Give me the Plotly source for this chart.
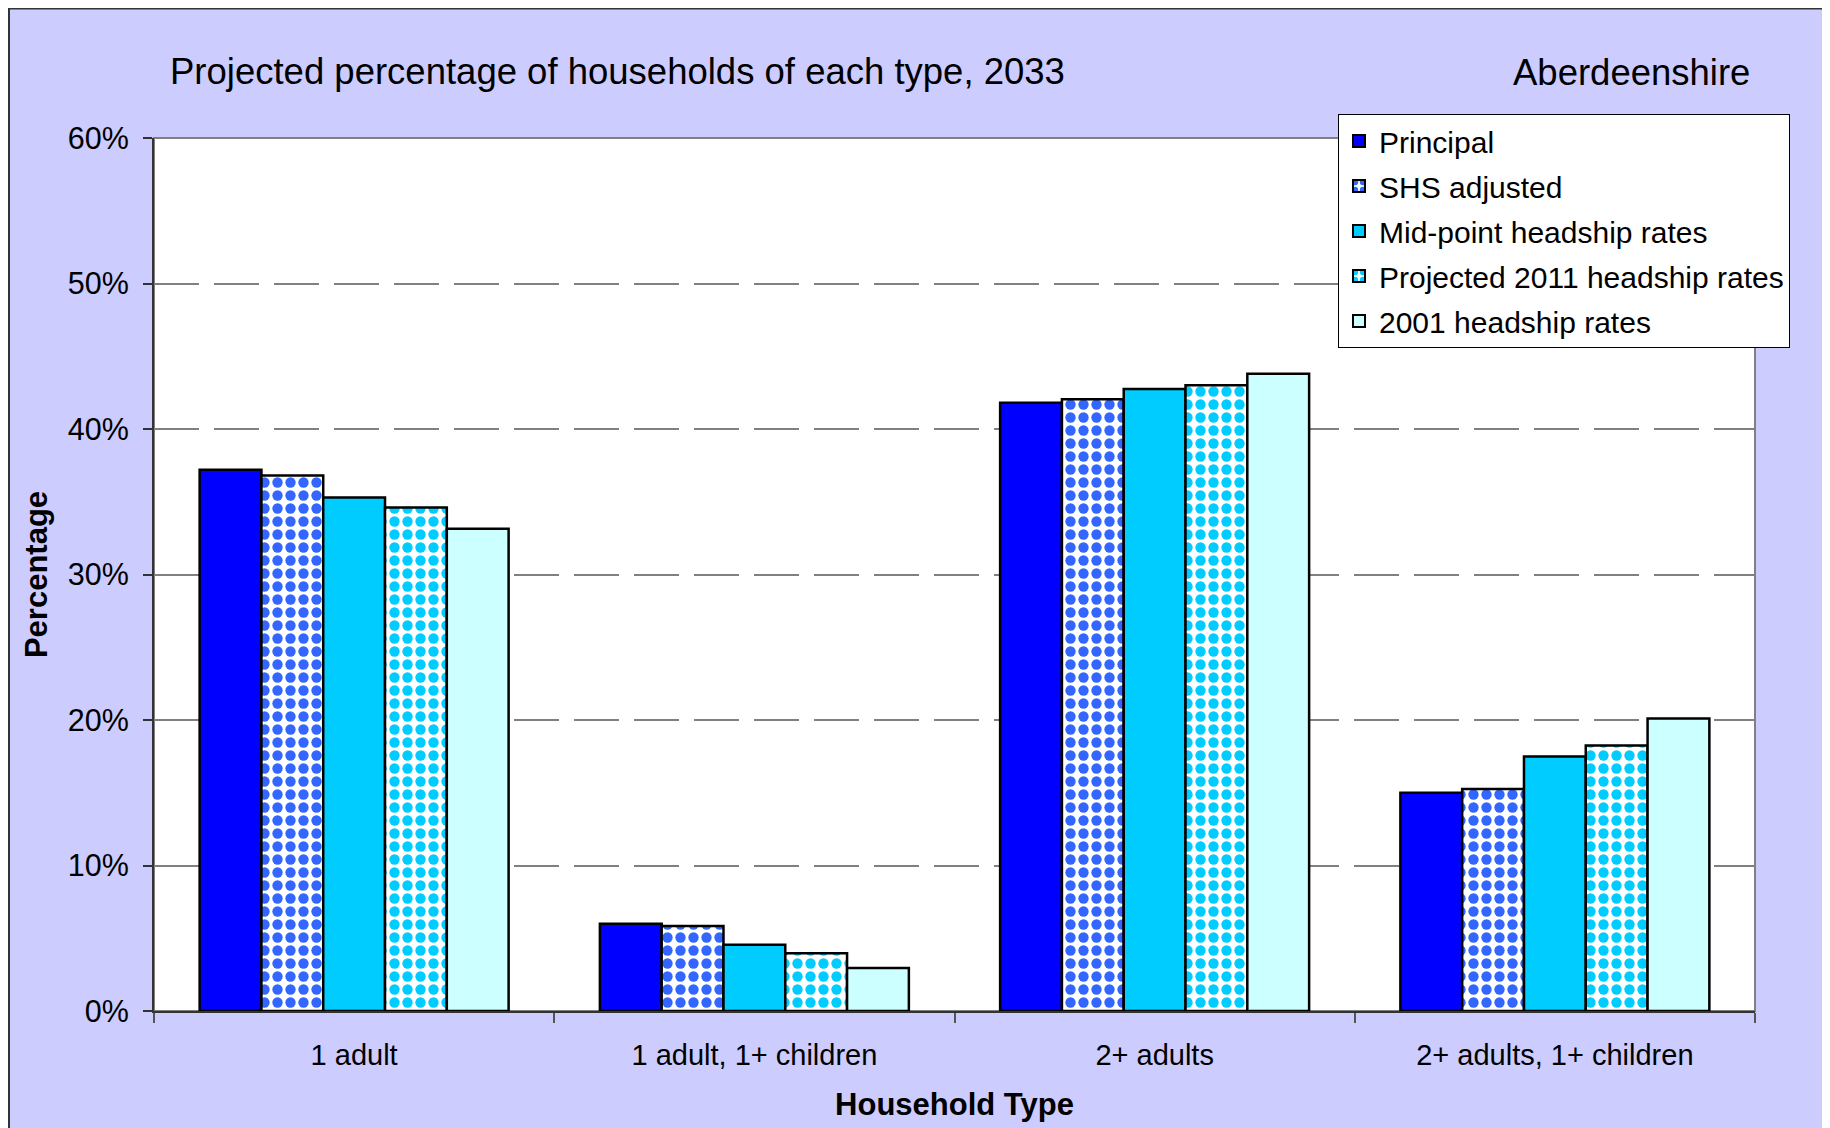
import plotly.graph_objects as go

categories = ["1 adult", "1 adult, 1+ children", "2+ adults", "2+ adults, 1+ children"]
principal = [37.2, 6.0, 41.8, 15.0]
shs_adjusted = [36.8, 5.85, 42.05, 15.25]
midpoint = [35.3, 4.55, 42.75, 17.5]
projected_2011 = [34.6, 3.97, 43.0, 18.25]
headship_2001 = [33.15, 2.96, 43.8, 20.1]
y_tickvals = [0, 10, 20, 30, 40, 50, 60]
y_ticktext = ["0%", "10%", "20%", "30%", "40%", "50%", "60%"]

# figure is placed at an 8px page offset, so figure pixels = page pixels - 8
W, H = 1822, 1120
L, R, T, B = 146, 1747, 130, 1003   # plot area in figure pixels


def px_x(x):
    return (x - L) / (R - L)


def px_y(y):
    return (B - y) / (B - T)


FONT = "Liberation Sans, Arial, sans-serif"

series = [
    ("Principal", principal, "#0000FF", None),
    ("SHS adjusted", shs_adjusted, "#3366FF", "check"),
    ("Mid-point headship rates", midpoint, "#00CCFF", None),
    ("Projected 2011 headship rates", projected_2011, "#00CCFF", "check"),
    ("2001 headship rates", headship_2001, "#CCFFFF", None),
]

fig = go.Figure()
for i, (name, vals, color, pat) in enumerate(series):
    marker = dict(color=color, line=dict(color="black", width=2.5))
    if pat:
        marker["pattern"] = dict(shape=".", fgcolor=color, bgcolor="white",
                                 size=13, solidity=0.5, fillmode="replace")
    fig.add_trace(go.Bar(name=name, x=categories, y=vals, marker=marker,
                         legendgroup=f"g{i}"))

fig.update_layout(
    width=W, height=H,
    margin=dict(l=L, r=W - R, t=T, b=H - B, pad=0),
    paper_bgcolor="#CCCCFF",
    plot_bgcolor="white",
    barmode="group",
    bargap=0.228,
    bargroupgap=0,
    font=dict(family=FONT, size=30, color="black"),
    showlegend=True,
    legend=dict(
        x=px_x(1330), y=px_y(106), xanchor="left", yanchor="top",
        bgcolor="white", bordercolor="black", borderwidth=1,
        font=dict(size=30), tracegroupgap=3, itemsizing="constant",
    ),
    shapes=[
        dict(type="rect", xref="paper", yref="paper", layer="below",
             x0=px_x(1), x1=px_x(1900), y0=px_y(1200), y1=px_y(0.5),
             fillcolor="rgba(0,0,0,0)", line=dict(color="#333333", width=2)),
        dict(type="rect", xref="paper", yref="paper", layer="below",
             x0=0, x1=1, y0=0, y1=1,
             fillcolor="white", line=dict(color="#808080", width=2)),
    ],
    annotations=[
        dict(text="Projected percentage of households of each type, 2033",
             xref="paper", yref="paper", x=px_x(160), y=px_y(63),
             xanchor="left", yanchor="middle", showarrow=False,
             font=dict(size=36.5, family=FONT)),
        dict(text="Aberdeenshire",
             xref="paper", yref="paper", x=px_x(1744), y=px_y(64),
             xanchor="right", yanchor="middle", showarrow=False,
             font=dict(size=36.5, family=FONT)),
    ],
)

fig.update_xaxes(
    showline=True, linecolor="#333333", linewidth=2,
    ticks="outside", tickson="boundaries", ticklen=10, tickcolor="#555555", tickwidth=1.5,
    tickfont=dict(size=29),
    ticklabelstandoff=17,
    showgrid=False,
    title=dict(text="<b>Household Type</b>", font=dict(size=31), standoff=24),
)
fig.update_yaxes(
    range=[0, 60],
    tickvals=y_tickvals, ticktext=y_ticktext,
    showline=True, linecolor="#333333", linewidth=2,
    ticks="outside", ticklen=9, tickcolor="#333333", tickwidth=1.5,
    tickfont=dict(size=30.5),
    ticklabelstandoff=8,
    showgrid=True, gridcolor="#808080", gridwidth=1.5, griddash="45px,15px",
    zeroline=False,
    title=dict(text="<b>Percentage</b>", font=dict(size=31), standoff=11),
)

fig.write_html("out.html")
